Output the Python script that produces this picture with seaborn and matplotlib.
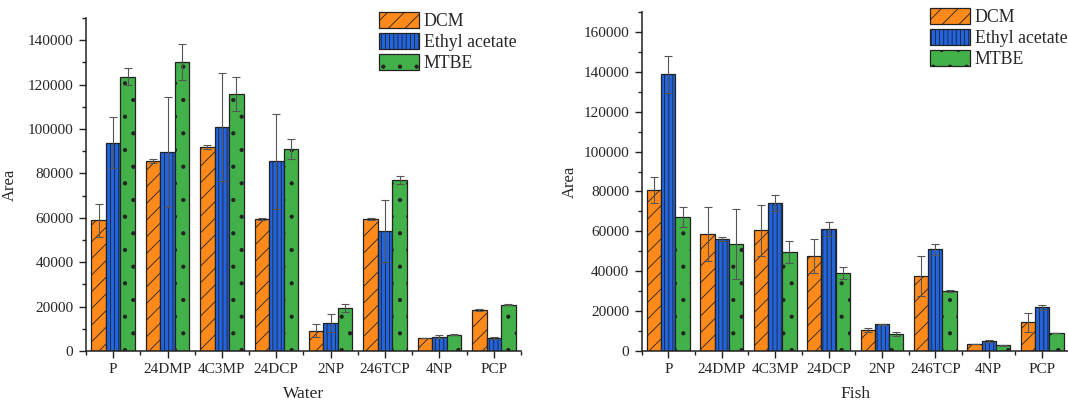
import numpy as np
import pandas as pd
import matplotlib
matplotlib.use("Agg")
import matplotlib.pyplot as plt
from matplotlib.patches import Patch
from matplotlib.ticker import MultipleLocator
import seaborn as sns

categories = ["P", "24DMP", "4C3MP", "24DCP", "2NP", "246TCP", "4NP", "PCP"]
solvents = ["DCM", "Ethyl acetate", "MTBE"]

water_dcm = [58800, 85600, 92000, 59400, 9200, 59400, 5700, 18400]
water_dcm_err = [7400, 1000, 1000, 400, 2900, 300, 0, 500]
water_ea = [93900, 89600, 101000, 85400, 12500, 54000, 6500, 5900]
water_ea_err = [11300, 24800, 24400, 21400, 4000, 13800, 600, 600]
water_mtbe = [123600, 130200, 115800, 91000, 19400, 77000, 7400, 20900]
water_mtbe_err = [4000, 8000, 7600, 4500, 1900, 1900, 400, 300]

fish_dcm = [80700, 58600, 60400, 47500, 10200, 37500, 3200, 14300]
fish_dcm_err = [6500, 13400, 12700, 8700, 1000, 10000, 0, 4800]
fish_ea = [138900, 55900, 74100, 61100, 13200, 51000, 4900, 21900]
fish_ea_err = [9400, 1000, 4000, 3400, 300, 2700, 300, 1300]
fish_mtbe = [67100, 53600, 49500, 39200, 8400, 30100, 2700, 8900]
fish_mtbe_err = [4900, 17600, 5400, 3000, 1000, 400, 300, 0]

colors = ["#FF8A1C", "#2164DD", "#43B149"]
hatches = ["//", "||||", "."]

sns.set_style("ticks")
plt.rcParams["font.family"] = ["Liberation Serif", "DejaVu Serif"]
plt.rcParams["hatch.linewidth"] = 0.6
plt.rcParams["hatch.color"] = "black"


def make_df(vals, errs):
    rows = []
    for s, v, e in zip(solvents, vals, errs):
        for c, vv, ee in zip(categories, v, e):
            rows.append({"Compound": c, "Solvent": s, "Area": vv, "Err": ee})
    return pd.DataFrame(rows)


df_water = make_df([water_dcm, water_ea, water_mtbe],
                   [water_dcm_err, water_ea_err, water_mtbe_err])
df_fish = make_df([fish_dcm, fish_ea, fish_mtbe],
                  [fish_dcm_err, fish_ea_err, fish_mtbe_err])

fig = plt.figure(figsize=(10.68, 4.01), dpi=100)
ax1 = fig.add_axes([0.0805, 0.1247, 0.4073, 0.8304])
ax2 = fig.add_axes([0.6008, 0.1254, 0.4000, 0.8439])


def draw(ax, df, ymax, xlabel, leg_anchor, ypad):
    sns.barplot(data=df, x="Compound", y="Area", hue="Solvent",
                order=categories, hue_order=solvents, palette=colors,
                errorbar=None, width=0.8, edgecolor="#222222", linewidth=0.9,
                ax=ax, legend=False, saturation=1)
    bar_conts = list(ax.containers)
    for i, cont in enumerate(bar_conts):
        sub = df[df["Solvent"] == solvents[i]].set_index("Compound").loc[categories]
        xs, ys = [], []
        for bar in cont:
            bar.set_hatch(hatches[i])
            xs.append(bar.get_x() + bar.get_width() / 2)
            ys.append(bar.get_height())
        ax.errorbar(xs, ys, yerr=sub["Err"].values, fmt="none", ecolor="#555555",
                    elinewidth=0.8, capsize=3, capthick=0.8, zorder=5)
    ax.set_xlim(-0.5, 7.5)
    ax.set_ylim(0, ymax)
    ax.yaxis.set_major_locator(MultipleLocator(20000))
    ax.yaxis.set_minor_locator(MultipleLocator(10000))
    ax.set_xticks(np.arange(-0.5, 8, 1.0), minor=True)
    ax.tick_params(axis="both", which="major", direction="out", length=5,
                   width=1.0, color="#222222", pad=4)
    ax.tick_params(axis="y", which="major", labelsize=11)
    ax.tick_params(axis="x", which="major", labelsize=11)
    ax.tick_params(axis="both", which="minor", direction="out", length=3,
                   width=1.0, color="#222222")
    sns.despine(ax=ax)
    for sp in ["left", "bottom"]:
        ax.spines[sp].set_linewidth(1.1)
        ax.spines[sp].set_color("#222222")
    ax.set_xlabel(xlabel, fontsize=12.5, labelpad=7)
    ax.set_ylabel("Area", fontsize=12, labelpad=ypad)
    handles = [Patch(facecolor=colors[i], edgecolor="#222222", hatch=hatches[i],
                     linewidth=0.9) for i in range(3)]
    fig.legend(handles, solvents, loc="upper left", bbox_to_anchor=leg_anchor,
               bbox_transform=fig.transFigure, frameon=False, fontsize=12.8,
               handlelength=2.27, handleheight=1.03, handletextpad=0.25,
               labelspacing=0.15, borderpad=0, borderaxespad=0)


draw(ax1, df_water, 150000, "Water", (379 / 1068, 1 - 12 / 401), 7)
draw(ax2, df_fish, 170000, "Fish", (930 / 1068, 1 - 8 / 401), 4)

fig.savefig("out.png", dpi=100)
